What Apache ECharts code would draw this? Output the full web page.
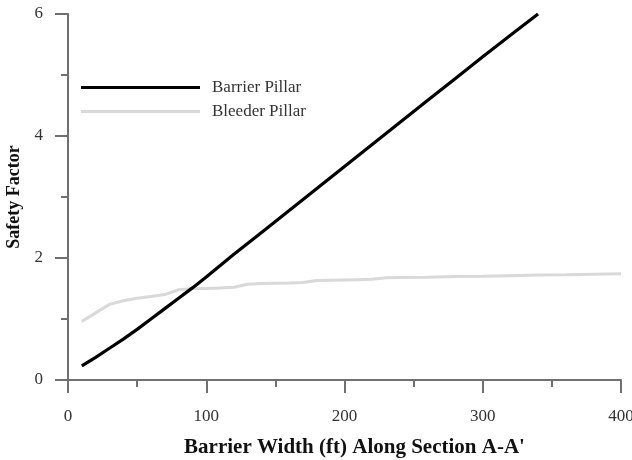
<!DOCTYPE html>
<html>
<head>
<meta charset="utf-8">
<script src="https://cdn.jsdelivr.net/npm/echarts@6/dist/echarts.min.js"></script>
<style>html,body{margin:0;padding:0;background:#fff;}#c{width:632px;height:460px;}</style>
</head>
<body>
<div id="c"></div>
<script>
const barrierX = [10, 20, 30, 40, 50, 60, 70, 80, 90, 100, 120, 140, 160, 180, 200, 220, 240, 260, 280, 300, 320, 340];
const barrierY = [0.23, 0.37, 0.52, 0.67, 0.83, 1.00, 1.17, 1.34, 1.51, 1.69, 2.06, 2.42, 2.78, 3.14, 3.50, 3.86, 4.22, 4.58, 4.94, 5.30, 5.65, 6.00];
const bleederX = [10, 20, 30, 40, 50, 60, 70, 80, 90, 100, 110, 120, 130, 140, 150, 160, 170, 180, 190, 200, 210, 220, 230, 240, 260, 280, 300, 320, 340, 360, 380, 400];
const bleederY = [0.96, 1.10, 1.24, 1.30, 1.34, 1.37, 1.40, 1.48, 1.50, 1.50, 1.51, 1.52, 1.57, 1.58, 1.585, 1.59, 1.60, 1.63, 1.635, 1.64, 1.645, 1.65, 1.675, 1.68, 1.685, 1.695, 1.70, 1.71, 1.72, 1.725, 1.735, 1.74];
const seriesNames = ['Barrier Pillar', 'Bleeder Pillar'];
const xTitle = "Barrier Width (ft) Along Section A-A'";
const yTitle = 'Safety Factor';

const font = '"Liberation Serif", "Times New Roman", serif';
const axisColor = '#707070';
const chart = echarts.init(document.getElementById('c'), null, {renderer: 'canvas'});
chart.setOption({
  animation: false,
  backgroundColor: '#fff',
  grid: {left: 68, right: 11, top: 14, bottom: 80, containLabel: false, outerBoundsMode: 'none'},
  legend: {
    orient: 'vertical', left: 76, top: 74, itemWidth: 119, itemHeight: 3, itemGap: 7,
    icon: 'rect',
    textStyle: {fontFamily: font, fontSize: 17, color: '#333', padding: [0, 0, 0, 7]},
    data: seriesNames
  },
  xAxis: {
    type: 'value', min: 0, max: 400, interval: 100,
    name: xTitle, nameLocation: 'middle', nameGap: 57,
    nameTextStyle: {fontFamily: font, fontSize: 21, fontWeight: 'bold', color: '#111', padding: [0, 0, 0, 20]},
    axisLine: {show: true, lineStyle: {color: axisColor, width: 2}},
    axisTick: {show: true, inside: false, length: 13, lineStyle: {color: axisColor, width: 2}},
    minorTick: {show: true, splitNumber: 2, length: 7, lineStyle: {color: axisColor, width: 2}},
    axisLabel: {fontFamily: font, fontSize: 17, color: '#333', margin: 28},
    splitLine: {show: false}
  },
  yAxis: {
    type: 'value', min: 0, max: 6, interval: 2,
    name: yTitle, nameLocation: 'middle', nameGap: 41, nameRotate: 90,
    nameTextStyle: {fontFamily: font, fontSize: 18, fontWeight: 'bold', color: '#111'},
    axisLine: {show: true, lineStyle: {color: axisColor, width: 2}},
    axisTick: {show: true, inside: false, length: 13, lineStyle: {color: axisColor, width: 2}},
    minorTick: {show: true, splitNumber: 2, length: 7, lineStyle: {color: axisColor, width: 2}},
    axisLabel: {fontFamily: font, fontSize: 17, color: '#333', margin: 25},
    splitLine: {show: false}
  },
  series: [
    {
      name: seriesNames[0], type: 'line', showSymbol: false, symbol: 'none',
      color: '#000', lineStyle: {color: '#000', width: 3.2}, z: 3,
      data: barrierX.map((x, i) => [x, barrierY[i]])
    },
    {
      name: seriesNames[1], type: 'line', showSymbol: false, symbol: 'none',
      color: '#d9d9d9', lineStyle: {color: '#d9d9d9', width: 3}, z: 2,
      data: bleederX.map((x, i) => [x, bleederY[i]])
    }
  ]
});
</script>
</body>
</html>
